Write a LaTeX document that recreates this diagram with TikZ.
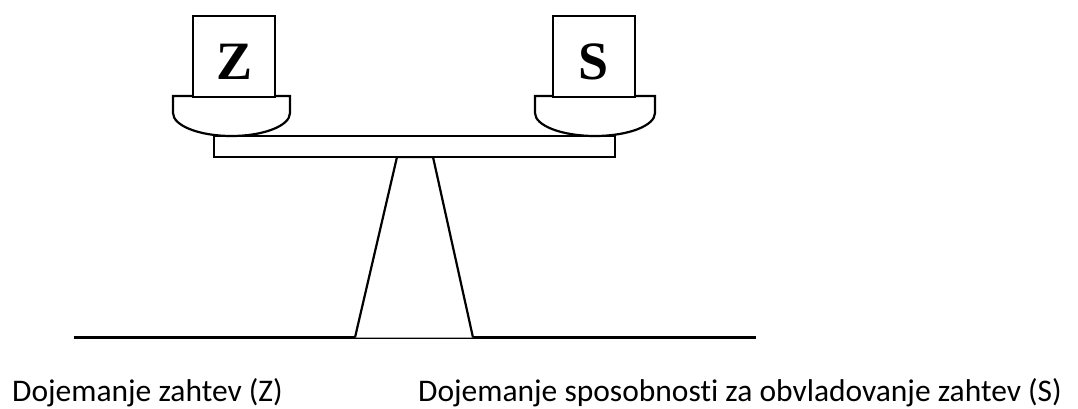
\documentclass[tikz,border=0pt]{standalone}
\usepackage{fontspec}
\setmainfont{Carlito}[Ligatures={NoCommon}]
\newfontfamily\weightfont{Liberation Serif}
\tikzset{
  part/.style={draw=black, line width=2.2pt, line join=miter, fill=white},
  weight/.style={part, minimum width=82pt, minimum height=81pt, inner sep=0pt},
  letter/.style={font=\weightfont\bfseries\fontsize{54}{60}\selectfont, inner sep=0pt},
  caption/.style={font=\fontsize{31.5}{36}\selectfont, inner sep=0pt, anchor=base west}
}
\begin{document}
\begin{tikzpicture}[x=1pt, y=-1pt]
  \useasboundingbox (0,0) rectangle (1078,408);

  % ground
  \coordinate (g1) at (74,337.5);
  \coordinate (g2) at (756,337.5);
  \draw[line width=2.4pt] (g1) -- (g2);

  % fulcrum
  \draw[part] (355,337.5) -- (397,157) -- (433,157) -- (473,337.5);

  % beam
  \node[part, minimum width=401pt, minimum height=21pt, inner sep=0pt] (beam) at (414.5,146.5) {};

  % left pan
  \draw[part] (173,96) -- (290,96) -- (290,113)
    .. controls (290,125.7) and (263.8,136) .. (231.5,136)
    .. controls (199.2,136) and (173,125.7) .. (173,113) -- cycle;
  % right pan
  \draw[part] (535,96) -- (655,96) -- (655,113)
    .. controls (655,125.7) and (628.1,136) .. (595,136)
    .. controls (561.9,136) and (535,125.7) .. (535,113) -- cycle;

  % weights
  \node[weight] (zbox) at (234,56.5) {};
  \node[weight] (sbox) at (594,56.5) {};
  \node[letter] (zl) at (235,61.5) {Z};
  \node[letter] (sl) at (594,62) {S};

  % captions
  \node[caption] (zcap) at (12,401) {Dojemanje zahtev (Z)};
  \node[caption] (scap) at (418,401) {Dojemanje sposobnosti za obvladovanje zahtev (S)};
\end{tikzpicture}
\end{document}
